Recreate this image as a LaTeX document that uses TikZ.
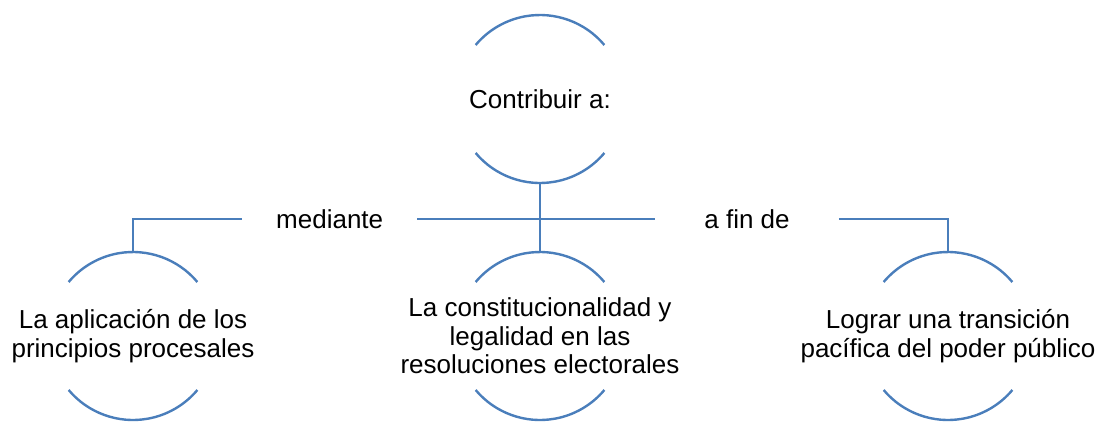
\documentclass[tikz,border=0pt]{standalone}
\usepackage{fontspec}
\setmainfont{Liberation Sans}
\definecolor{ringblue}{HTML}{4A7EBB}
\begin{document}
\begin{tikzpicture}[
  ring/.style={circle, minimum size=168pt, inner sep=0pt, outer sep=0pt},
  txt/.style={align=center, inner sep=0pt, font=\fontsize{26}{28.5}\selectfont},
  lbl/.style={inner ysep=0pt, inner xsep=34pt, font=\fontsize{26}{28.5}\selectfont},
  arcline/.style={draw=ringblue, line width=2.4pt},
  conn/.style={draw=ringblue, line width=2.4pt}
]
\useasboundingbox (0pt,0pt) rectangle (1099pt,-421pt);
\node[ring] (t) at (540pt,-99pt) {};
\node[ring] (l) at (133pt,-336pt) {};
\node[ring] (m) at (540pt,-336pt) {};
\node[ring] (r) at (948pt,-336pt) {};
\node[txt] (tt) at (t) {Contribuir a:};
\node[txt] (lt) at (l) {La aplicación de los\\principios procesales};
\node[txt] (mt) at (m) {La constitucionalidad y\\legalidad en las\\resoluciones electorales};
\node[txt] (rt) at (r) {Lograr una transición\\pacífica del poder público};
\node[lbl, anchor=west] (med) at (242pt,-219pt) {mediante};
\node[lbl, inner xsep=49pt] (fin) at (747pt,-219pt) {a fin de};
\foreach \n in {t,l,m,r} {
  \draw[arcline] (\n.40) arc[start angle=40, end angle=140, radius=84pt];
  \draw[arcline] (\n.220) arc[start angle=220, end angle=320, radius=84pt];
}
\draw[conn] (l.north) |- (med.west);
\draw[conn] (med.east) -- (fin.west);
\draw[conn] (fin.east) -| (r.north);
\draw[conn] (t.south) -- (m.north);
\end{tikzpicture}
\end{document}
